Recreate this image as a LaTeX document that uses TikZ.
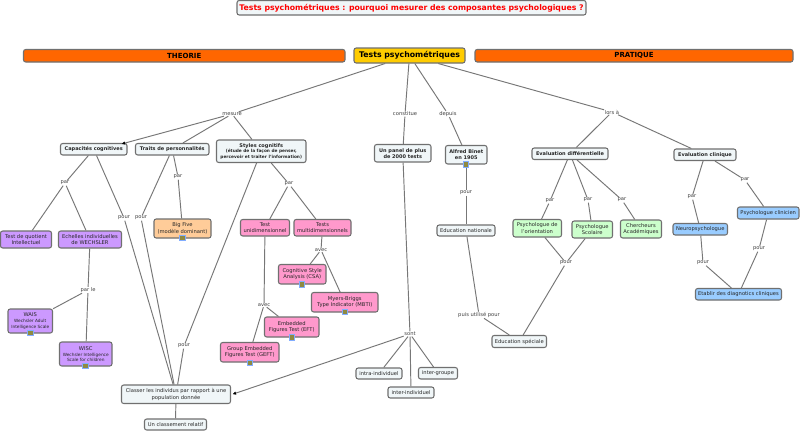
\documentclass[tikz,border=0pt]{standalone}
\usepackage{fontspec}
\setmainfont{DejaVu Sans}
\usetikzlibrary{arrows.meta}
\definecolor{bord}{HTML}{707070}
\definecolor{pale}{HTML}{F0F6F8}
\definecolor{orangeb}{HTML}{FF6600}
\definecolor{jaune}{HTML}{FFCC00}
\definecolor{violet}{HTML}{CC99FF}
\definecolor{rose}{HTML}{FF99CC}
\definecolor{peche}{HTML}{FFCC99}
\definecolor{vert}{HTML}{CCFFCC}
\definecolor{bleu}{HTML}{99CCFF}
\definecolor{lien}{HTML}{777777}
\tikzset{
  box/.style={draw=bord,line width=1.05pt,rounded corners=2.2pt,inner sep=0pt,align=center,font=\fontsize{5.2}{6.6}\selectfont,text=black!85},
  plain/.style={box,fill=pale},
  boldbox/.style={box,fill=pale,font=\fontsize{5}{6.2}\selectfont\bfseries},
  purple/.style={box,fill=violet},
  pink/.style={box,fill=rose},
  green/.style={box,fill=vert},
  blue/.style={box,fill=bleu},
  peach/.style={box,fill=peche},
  band/.style={box,fill=orangeb,font=\fontsize{7}{8}\selectfont\bfseries,text=black},
  linklab/.style={font=\fontsize{5.2}{6}\selectfont,text=black!75,fill=white,inner sep=.5pt},
  conn/.style={draw=lien,line width=.95pt},
  arr/.style={conn,-{Latex[length=3.5pt,width=3.5pt,black]}},
  icon/.style={draw=bleu!85!blue,fill=olive!55!gray,line width=1pt,minimum size=5.2pt,inner sep=0pt}
}
\newcommand{\bx}[7][]{%
  \pgfmathsetmacro\cxv{(#3+#5)/2}\pgfmathsetmacro\cyv{(#4+#6)/2}%
  \pgfmathsetmacro\wv{#5-#3}\pgfmathsetmacro\hv{#6-#4}%
  \node[#1,minimum width=\wv pt,minimum height=\hv pt] (#2) at (\cxv,\cyv) {#7};}
\newcommand{\smallt}[1]{{\fontsize{4.3}{5.3}\selectfont #1}}
\begin{document}
\begin{tikzpicture}[x=1pt,y=-1pt]
\useasboundingbox[fill=white] (0,0) rectangle (800,431);
% link labels
\foreach \n/\x/\y/\t in {
 mesure/232/114/mesure, constitue/405/114/constitue, depuis/448/114/depuis, lors/612/112/lors à,
 parA/65/183/par, pourA/124/218/pour, pourB/141/218/pour, parB/178/177/par, parC/289/184/par,
 pourC/184/346/pour, parle/88/290/par le, avecA/321/250/avec, avecB/264/305/avec, sont/410/334/sont,
 pourD/466/193/pour, puis/479/315/puis utilisé pour, parD/550/201/par, parE/588/200/par, parF/622/200/par,
 parG/692/197/par, parH/745/180/par, pourE/566/263/pour, pourF/703/263/pour, pourG/759/249/pour}
 {\node[linklab] (\n) at (\x,\y) {\t};}
% nodes
\bx[box,fill=pale,font=\fontsize{7.75}{10}\selectfont\bfseries,text=red]{title}{237}{0.5}{586}{15}{Tests psychométriques : pourquoi mesurer des composantes psychologiques ?}
\bx[band]{theorie}{23.5}{49.5}{345}{62}{THEORIE}
\bx[band]{pratique}{475}{49.5}{793}{62}{PRATIQUE}
\bx[box,fill=jaune,font=\fontsize{7.8}{10}\selectfont\bfseries,text=black]{tests}{354}{48}{465}{63}{Tests psychométriques}
\bx[boldbox]{capa}{60.5}{143.5}{127}{155}{Capacités cognitives}
\bx[boldbox]{traits}{135.5}{143.5}{209}{155}{Traits de personnalités}
\bx[boldbox]{styles}{216.5}{140}{306}{162.5}{Styles cognitifs\\[-.6pt]\smallt{(étude de la façon de penser,}\\[-.9pt]\smallt{percevoir et traiter l’information)}}
\bx[boldbox]{panel}{374.5}{144.5}{431}{162}{Un panel de plus\\de 2000 tests}
\bx[boldbox]{binet}{445.5}{145.5}{487}{164}{Alfred Binet\\en 1905}
\bx[boldbox]{evald}{532}{148}{608}{159.5}{Evaluation différentielle}
\bx[boldbox]{evalc}{674}{149}{736}{160.5}{Evaluation clinique}
\bx[purple]{quot}{0.5}{231}{51.5}{248}{Test de quotient\\Intellectuel}
\bx[purple]{ech}{58.5}{231}{121.5}{248}{Echelles individuelles\\de WECHSLER}
\bx[purple]{wais}{8}{309}{52.5}{333}{WAIS\\[-.8pt]\smallt{Wechsler Adult}\\[-1pt]\smallt{Intelligence Scale}}
\bx[purple]{wisc}{59.5}{342}{112}{366}{WISC\\[-.8pt]\smallt{Wechsler Intelligence}\\[-1pt]\smallt{Scale for children}}
\bx[peach]{big}{154}{219}{211}{238}{Big Five\\(modèle dominant)}
\bx[pink]{unid}{240.5}{219.5}{289.5}{236}{Test\\unidimensionnel}
\bx[pink]{multi}{294}{219.5}{351}{236}{Tests\\multidimensionnels}
\bx[pink]{csa}{278.5}{264.5}{326}{284}{Cognitive Style\\Analysis (CSA)}
\bx[pink]{mbti}{311.5}{292.5}{378}{312}{Myers-Briggs\\Type Indicator (MBTI)}
\bx[pink]{eft}{264.5}{317}{319}{337}{Embedded\\Figures Test (EFT)}
\bx[pink]{geft}{220.5}{342.5}{279}{362}{Group Embedded\\Figures Test (GEFT)}
\bx[plain]{classer}{121.5}{385}{230.5}{403.5}{Classer les individus par rapport à une\\population donnée}
\bx[plain]{rel}{144.5}{419}{206.5}{430}{Un classement relatif}
\bx[plain]{intra}{356}{368}{402}{379}{intra-individuel}
\bx[plain]{interi}{388}{387}{434}{398}{inter-individuel}
\bx[plain]{interg}{418.5}{367.5}{457.5}{379}{inter-groupe}
\bx[plain]{ednat}{437}{225}{495}{236}{Education nationale}
\bx[plain]{edspe}{492}{335.5}{546.5}{347.5}{Education spéciale}
\bx[green]{orient}{513}{219.5}{561.5}{237}{Psychologue de\\l’orientation}
\bx[green]{scol}{572}{221}{612.5}{238}{Psychologue\\Scolaire}
\bx[green]{cherch}{620.5}{220}{661.5}{238}{Chercheurs\\Académiques}
\bx[blue]{neuro}{673}{223.5}{727.5}{235}{Neuropsychologue}
\bx[blue]{clin}{737.5}{207}{799}{219}{Psychologue clinicien}
\bx[blue]{etab}{695.5}{288.5}{781.5}{300}{Etablir des diagnotics cliniques}
% attachment icons
\foreach \n/\x/\y in {icA/466/164.5, icB/182.5/238, icC/302/284.5, icD/345/312, icE/292/337.5, icF/250/363, icG/30.5/333, icH/85.5/366}
 {\node[icon] (\n) at (\x,\y) {};}
% connectors
\begin{scope}[on background layer/.style={}]
\foreach \a/\b in {tests/mesure, mesure/traits, mesure/styles, tests/constitue, constitue/panel, tests/depuis, depuis/binet, tests/lors, lors/evald, lors/evalc,
 capa/parA, parA/quot, parA/ech, capa/pourA, pourA/classer, traits/pourB, pourB/classer, traits/parB, parB/big, styles/pourC, pourC/classer,
 styles/parC, parC/unid, parC/multi, unid/avecB, avecB/eft, avecB/geft, multi/avecA, avecA/csa, avecA/mbti, ech/parle, parle/wais, parle/wisc,
 panel/sont, sont/intra, sont/interi, sont/interg, classer/rel, icA/pourD, pourD/ednat, ednat/puis, puis/edspe,
 evald/parD, parD/orient, evald/parE, parE/scol, evald/parF, parF/cherch, evalc/parG, parG/neuro, evalc/parH, parH/clin,
 orient/pourE, scol/pourE, pourE/edspe, neuro/pourF, pourF/etab, clin/pourG, pourG/etab}
 {\draw[conn] (\a) -- (\b);}
\end{scope}
\coordinate (capatip) at ([xshift=-6pt,yshift=-1pt]capa.north east);
\draw[arr] (mesure) -- (capatip);
\draw[arr] (sont) -- ([xshift=1.5pt]classer.east);
\end{tikzpicture}
\end{document}
